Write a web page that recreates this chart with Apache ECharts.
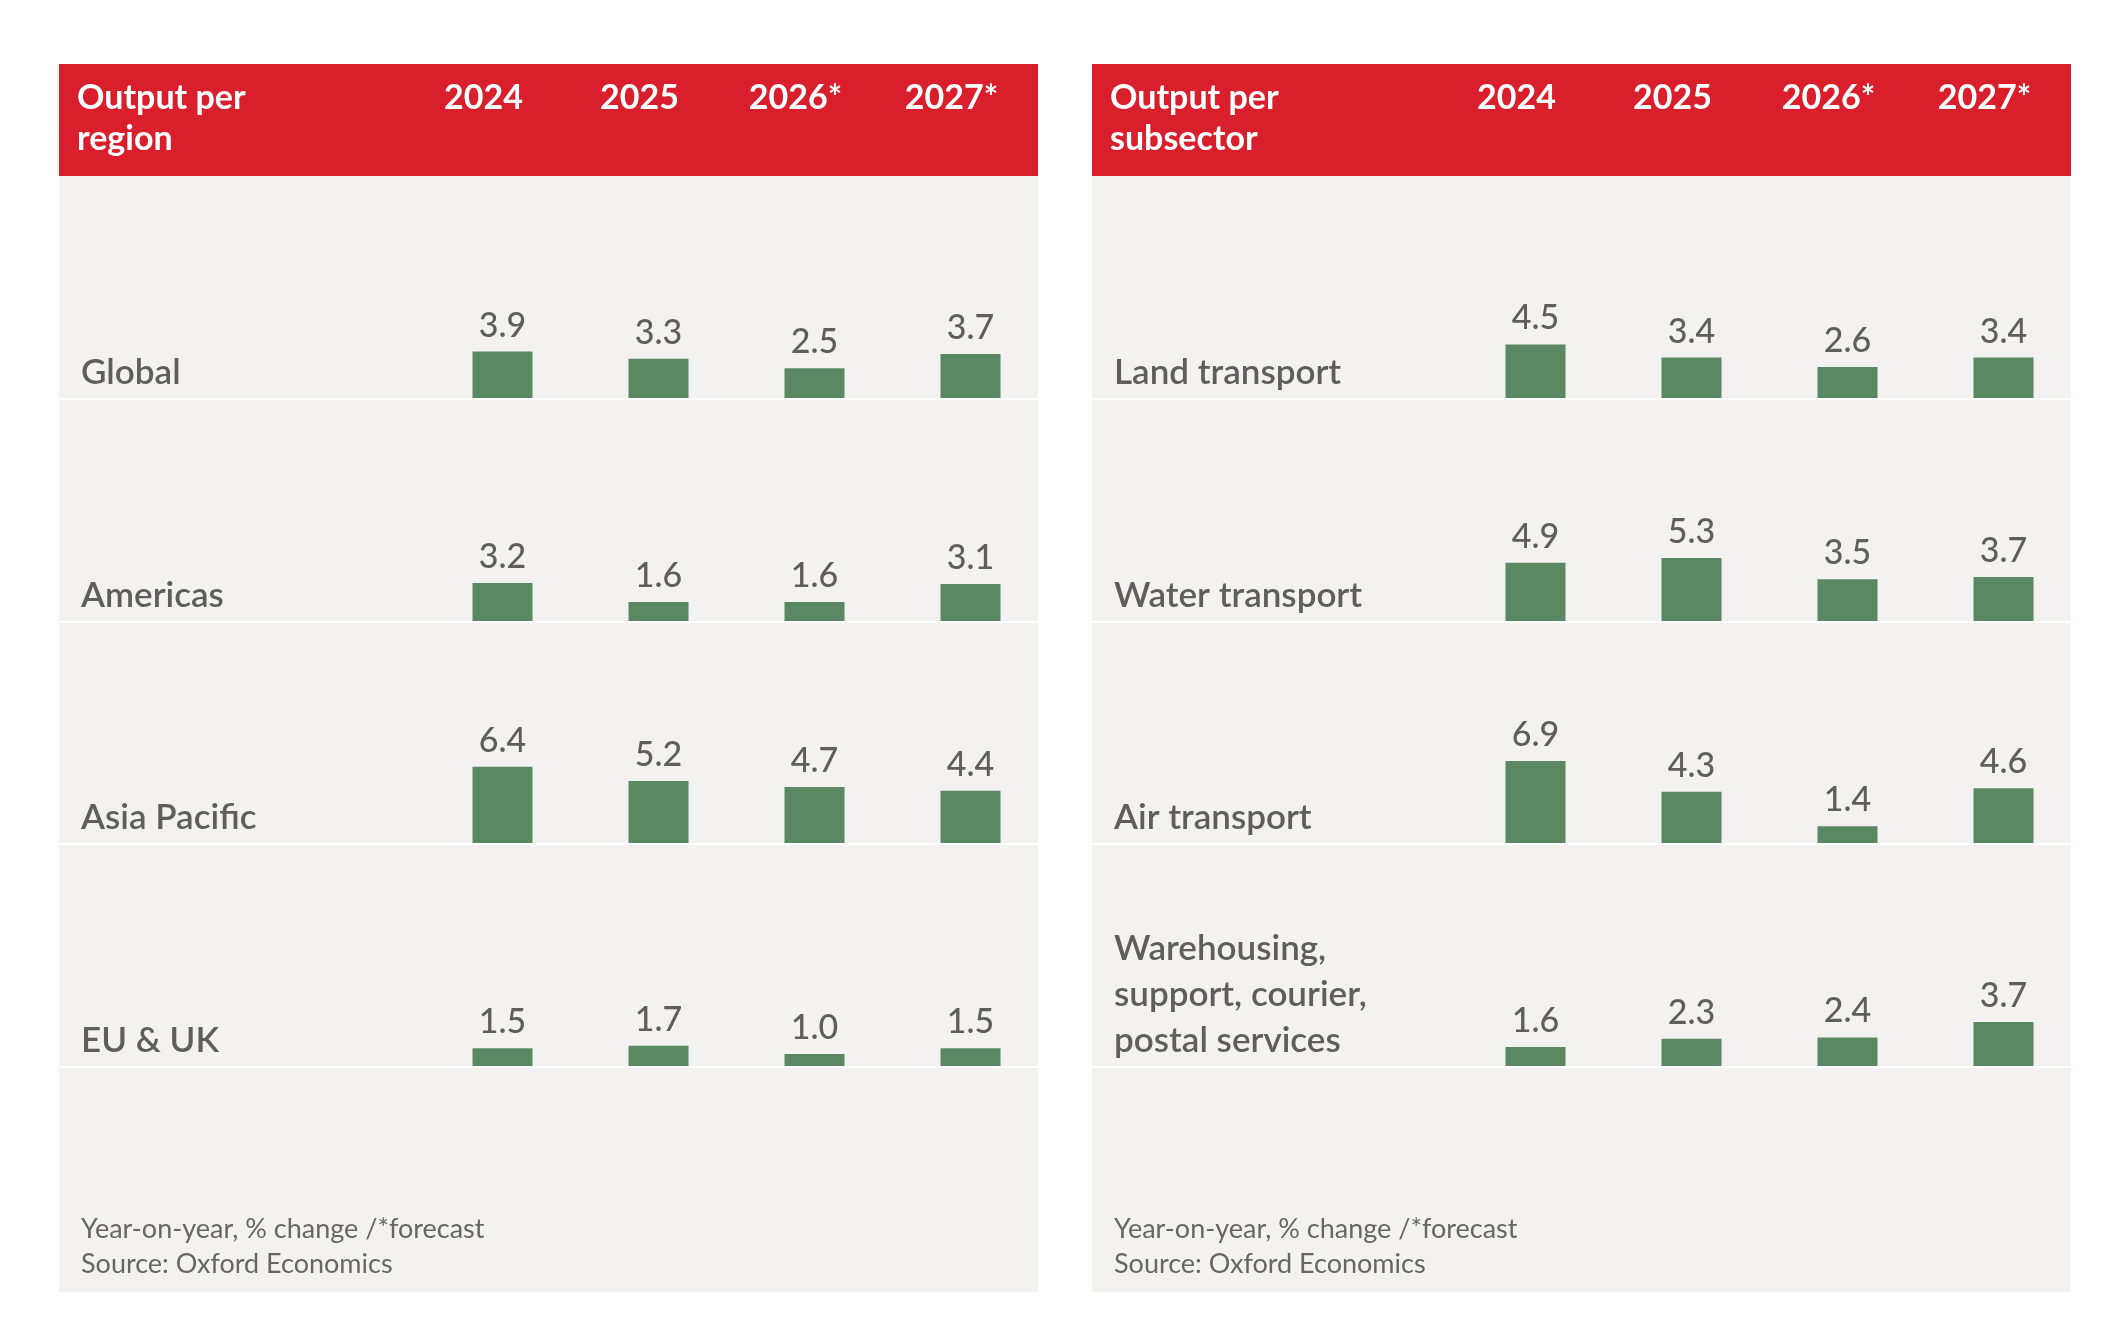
<!DOCTYPE html>
<html>
<head>
<meta charset="utf-8">
<script src="https://cdn.jsdelivr.net/npm/echarts@6/dist/echarts.min.js"></script>
<style>
  html, body { margin: 0; padding: 0; background: #fff; }
  #chart { width: 2126px; height: 1335px; }
</style>
</head>
<body>
<div id="chart"></div>
<script>
// data
const years = ["2024", "2025", "2026*", "2027*"];

const regionTitle = "Output per\nregion";
const regions = ["Global", "Americas", "Asia Pacific", "EU & UK"];
const globalVals = [3.9, 3.3, 2.5, 3.7];
const americasVals = [3.2, 1.6, 1.6, 3.1];
const asiaPacificVals = [6.4, 5.2, 4.7, 4.4];
const euUkVals = [1.5, 1.7, 1.0, 1.5];

const subsectorTitle = "Output per\nsubsector";
const subsectors = ["Land transport", "Water transport", "Air transport", "Warehousing,\nsupport, courier,\npostal services"];
const landVals = [4.5, 3.4, 2.6, 3.4];
const waterVals = [4.9, 5.3, 3.5, 3.7];
const airVals = [6.9, 4.3, 1.4, 4.6];
const warehousingVals = [1.6, 2.3, 2.4, 3.7];

const footnote = "Year-on-year, % change /*forecast\nSource: Oxford Economics";

// layout
const FONT = "Lato, 'Noto Sans', sans-serif";
const RED = "#d91f2b";
const BG = "#f3f2f0";
const GREEN = "#5a8863";
const TEXT = "#5e5e5e";

const panelW = 979;
const headTop = 64, headBottom = 176, panelBottom = 1292;
const rowBottoms = [398, 621, 843, 1066];
const barAreaLeft = 365.5, barAreaW = 624, barAreaH = 119, axisMax = 10;

const panels = [
  { x: 59, title: regionTitle, labels: regions, rows: [globalVals, americasVals, asiaPacificVals, euUkVals] },
  { x: 1092, title: subsectorTitle, labels: subsectors, rows: [landVals, waterVals, airVals, warehousingVals] }
];

const grids = [], xAxes = [], yAxes = [], series = [], graphics = [];

panels.forEach((p, pi) => {
  // panel background + header band
  graphics.push({ type: "rect", z: -10, shape: { x: p.x, y: headTop, width: panelW, height: panelBottom - headTop }, style: { fill: BG } });
  graphics.push({ type: "rect", z: -9, shape: { x: p.x, y: headTop, width: panelW, height: headBottom - headTop }, style: { fill: RED } });
  graphics.push({
    type: "text", x: p.x + 18, y: 78,
    style: { text: p.title, fill: "#fff", font: "bold 34px " + FONT, lineHeight: 41, verticalAlign: "top" }
  });
  years.forEach((yr, i) => {
    const cx = p.x + barAreaLeft + barAreaW / 8 * (2 * i + 1) - 19;
    graphics.push({
      type: "text", x: cx, y: 78,
      style: { text: yr, fill: "#fff", font: "bold 34px " + FONT, lineHeight: 41, align: "center", verticalAlign: "top" }
    });
  });

  p.rows.forEach((vals, ri) => {
    const bottom = rowBottoms[ri];
    // white separator
    graphics.push({ type: "rect", z: -8, shape: { x: p.x, y: bottom, width: panelW, height: 2 }, style: { fill: "#fff" } });
    // row label
    graphics.push({
      type: "text", x: p.x + 22, y: bottom - 2,
      style: { text: p.labels[ri], fill: TEXT, font: "600 35px " + FONT, lineHeight: 46, verticalAlign: "bottom" }
    });

    const gi = grids.length;
    grids.push({ left: p.x + barAreaLeft, top: bottom - barAreaH, width: barAreaW, height: barAreaH });
    xAxes.push({
      type: "category", gridIndex: gi, data: years,
      axisLine: { show: false }, axisTick: { show: false }, axisLabel: { show: false }
    });
    yAxes.push({
      type: "value", gridIndex: gi, min: 0, max: axisMax,
      axisLine: { show: false }, axisTick: { show: false }, axisLabel: { show: false }, splitLine: { show: false }
    });
    series.push({
      type: "bar", xAxisIndex: gi, yAxisIndex: gi, data: vals, barWidth: 60,
      itemStyle: { color: GREEN },
      label: {
        show: true, position: "top", distance: 9,
        formatter: (d) => d.value.toFixed(1),
        color: TEXT, fontFamily: FONT, fontSize: 34, fontWeight: 500, lineHeight: 34
      },
      silent: true, animation: false
    });
  });

  graphics.push({
    type: "text", x: p.x + 22, y: 1282,
    style: { text: footnote, fill: "#666", font: "27px " + FONT, lineHeight: 35, verticalAlign: "bottom" }
  });
});

const chart = echarts.init(document.getElementById("chart"));
chart.setOption({
  backgroundColor: "#fff",
  animation: false,
  grid: grids,
  xAxis: xAxes,
  yAxis: yAxes,
  series: series,
  graphic: graphics
});
</script>
</body>
</html>
